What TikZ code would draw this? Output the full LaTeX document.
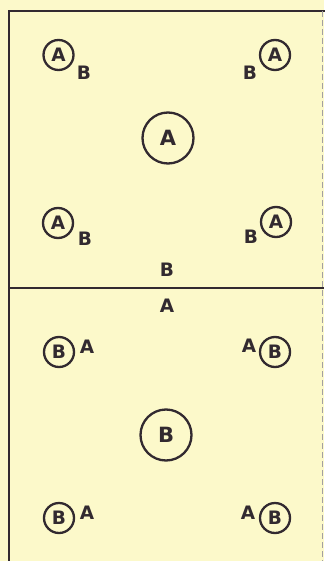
\documentclass[tikz,border=0pt]{standalone}
\usepackage{fontspec}
\setmainfont{DejaVu Sans}
\begin{document}
\begin{tikzpicture}[x=1pt,y=-1pt,
  ink/.style={draw=inkc,line width=2.3pt},
  plr/.style={circle,ink,minimum size=30pt,inner sep=0pt,font=\fontsize{18.5}{18.5}\selectfont\bfseries,text=inkc},
  big/.style={circle,ink,minimum size=51pt,inner sep=0pt,font=\fontsize{21}{21}\selectfont\bfseries,text=inkc},
  lbl/.style={inner sep=0pt,font=\fontsize{18.5}{18.5}\selectfont\bfseries,text=inkc}]
\definecolor{bgc}{RGB}{252,249,202}
\definecolor{inkc}{RGB}{50,42,48}
\fill[bgc] (0,0) rectangle (324,561);
\useasboundingbox (0,0) rectangle (324,561);
% court lines
\coordinate (tl) at (9,11);
\coordinate (tr) at (324,11);
\coordinate (bl) at (9,561);
\coordinate (ml) at (9,288);
\coordinate (mr) at (324,288);
\coordinate (rt) at (322.5,11);
\coordinate (rb) at (322.5,561);
\draw[ink,line cap=rect] (bl) -- (tl) -- (tr);
\draw[ink] (ml) -- (mr);
\draw[draw=inkc!45,line width=0.8pt,dash pattern=on 6pt off 3pt] (rt) -- (rb);
% upper half
\node[plr] (a1) at (58.5,55) {A};
\node[lbl] (b1) at (84,73) {B};
\node[plr] (a2) at (275,55) {A};
\node[lbl] (b2) at (250,73) {B};
\node[big] (a0) at (168,138) {A};
\node[plr] (a3) at (58,223) {A};
\node[lbl] (b3) at (85,239) {B};
\node[plr] (a4) at (276,222) {A};
\node[lbl] (b4) at (251,237) {B};
\node[lbl] (b5) at (167,270) {B};
% lower half
\node[lbl] (a5) at (167,306) {A};
\node[plr] (c1) at (59,352) {B};
\node[lbl] (d1) at (87,347) {A};
\node[plr] (c2) at (275,352) {B};
\node[lbl] (d2) at (249,346) {A};
\node[big] (c0) at (166,435) {B};
\node[plr] (c3) at (59,518) {B};
\node[lbl] (d3) at (87,513) {A};
\node[plr] (c4) at (275,518) {B};
\node[lbl] (d4) at (248,513) {A};
\end{tikzpicture}
\end{document}
